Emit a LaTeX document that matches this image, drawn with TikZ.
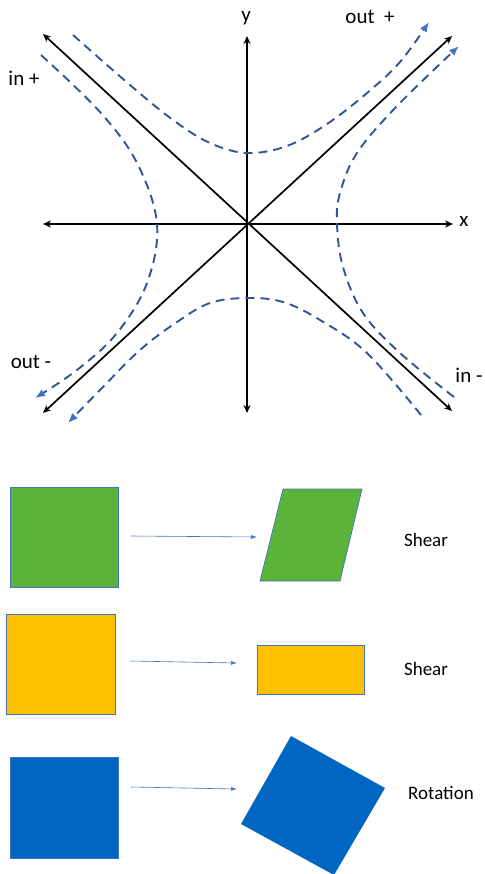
\documentclass[tikz,border=0pt]{standalone}
\usepackage{fontspec}
\setmainfont{Carlito}
\usetikzlibrary{arrows.meta}
\definecolor{dashblue}{HTML}{2F5597}
\definecolor{tipblue}{HTML}{4472C4}
\definecolor{sqgreen}{HTML}{5BB33A}
\definecolor{sqyellow}{HTML}{FFC000}
\definecolor{sqblue}{HTML}{0066C2}
\begin{document}
\begin{tikzpicture}[x=1pt,y=-1pt,
 axis/.style={line width=1.7pt, {Stealth[length=8pt,width=7pt]}-{Stealth[length=8pt,width=7pt]}},
 dashcurve/.style={dashblue, line width=1.9pt, dash pattern=on 9pt off 6pt, -{Latex[length=10pt,width=8pt,color=tipblue]}},
 lbl/.style={font=\fontsize{21}{24}\selectfont, inner sep=0pt},
 slbl/.style={font=\fontsize{19}{22}\selectfont, inner sep=0pt},
 sqbox/.style={draw=tipblue, line width=0.7pt, inner sep=0pt, outer sep=0pt, anchor=north west},
 maparrow/.style={tipblue, line width=0.6pt, -{Latex[length=6pt,width=4pt]}}
]
\useasboundingbox (0,0) rectangle (484,874);
% axes
\coordinate (O) at (247,224);
\coordinate (xl) at (43,224); \coordinate (xr) at (453,224);
\coordinate (yt) at (247,36); \coordinate (yb) at (247,413);
\coordinate (d1a) at (43,34); \coordinate (d1b) at (452,411);
\coordinate (d2a) at (43,413); \coordinate (d2b) at (452,36);
\draw[axis] (xl) -- (xr);
\draw[axis] (yt) -- (yb);
\draw[axis] (d1a) -- (d1b);
\draw[axis] (d2a) -- (d2b);
% dashed curves
\draw[dashcurve] plot[smooth, tension=0.6] coordinates {(73,35) (130,85) (173,120) (210,143) (247,153) (287,146) (327,124) (367,93) (400,62) (429,22)};
\draw[dashcurve] plot[smooth, tension=0.6] coordinates {(454,397) (400,353) (363,313) (343,267) (337,224) (340,193) (357,153) (397,106) (459,46)};
\draw[dashcurve] plot[smooth, tension=0.6] coordinates {(41,55) (100,112) (137,163) (157,224) (147,283) (117,333) (77,370) (35,398)};
\draw[dashcurve] plot[smooth, tension=0.6] coordinates {(421,415) (367,353) (320,320) (283,302) (247,298) (210,303) (177,322) (140,350) (100,390) (68,423)};
% labels
\node[lbl] (lx) at (464,221) {x};
\node[lbl] (ly) at (246,18) {y};
\node[lbl] (lop) at (370,17) {out\ \ +};
\node[lbl] (lip) at (24,78) {in +};
\node[lbl] (lom) at (31,362) {out -};
\node[lbl] (lim) at (469,375) {in -};
% lower section
\node[sqbox, fill=sqgreen, minimum width=108pt, minimum height=100pt] (g1) at (10,487) {};
\coordinate (p1) at (283,489); \coordinate (p2) at (362,489);
\coordinate (p3) at (340,581); \coordinate (p4) at (260,581);
\draw[draw=tipblue, line width=0.7pt, fill=sqgreen] (p1) -- (p2) -- (p3) -- (p4) -- cycle;
\coordinate (a1s) at (131,536); \coordinate (a1e) at (257,537);
\draw[maparrow] (a1s) -- (a1e);
\node[slbl] (t1) at (426,540) {Shear};

\node[sqbox, fill=sqyellow, minimum width=109pt, minimum height=100pt] (y1) at (6,614) {};
\node[sqbox, fill=sqyellow, minimum width=107pt, minimum height=49pt] (y2) at (257,645) {};
\coordinate (a2s) at (131,661); \coordinate (a2e) at (237,663);
\draw[maparrow] (a2s) -- (a2e);
\node[slbl] (t2) at (426,669) {Shear};

\node[sqbox, fill=sqblue, draw=tipblue, minimum width=108pt, minimum height=101pt] (b1) at (10,757) {};
\coordinate (r1) at (291,736); \coordinate (r2) at (385,788);
\coordinate (r3) at (334,875); \coordinate (r4) at (241,824);
\fill[sqblue] (r1) -- (r2) -- (r3) -- (r4) -- cycle;
\coordinate (a3s) at (131,787); \coordinate (a3e) at (237,789);
\draw[maparrow] (a3s) -- (a3e);
\node[slbl] (t3) at (441,793) {Rotation};
\end{tikzpicture}
\end{document}
